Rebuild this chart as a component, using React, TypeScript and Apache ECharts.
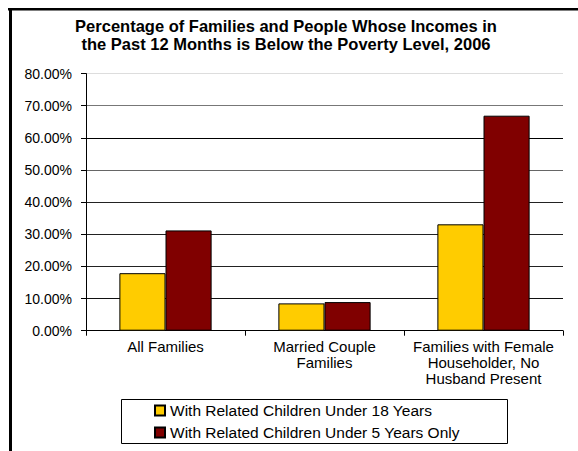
import React, { useEffect, useRef } from "react";
import * as echarts from "echarts";

const titleLines = [
  "Percentage of Families and People Whose Incomes in",
  "the Past 12 Months is Below the Poverty Level, 2006",
];
const categories = [
  "All Families",
  "Married Couple\nFamilies",
  "Families with Female\nHouseholder, No\nHusband Present",
];
const seriesNames = [
  "With Related Children Under 18 Years",
  "With Related Children Under 5 Years Only",
];
const under18 = [17.9, 8.5, 33.1];
const under5 = [31.2, 8.9, 66.9];
const yTicks = { min: 0, max: 80, interval: 10 };

const FONT = "'Liberation Sans', Arial, sans-serif";

export default function App() {
  const ref = useRef<HTMLDivElement>(null);
  useEffect(() => {
    if (!ref.current) return;
    const chart = echarts.init(ref.current, undefined, { renderer: "svg" });
    chart.setOption({
      animation: false,
      backgroundColor: "#fff",
      textStyle: { fontFamily: FONT },
      title: {
        text: titleLines.join("\n"),
        left: 286,
        top: 17,
        textAlign: "center",
        padding: 0,
        textStyle: {
          fontFamily: FONT,
          fontSize: 16.5,
          fontWeight: "bold",
          color: "#000",
          lineHeight: 18,
        },
      },
      grid: { left: 86, right: 15, top: 73.6, bottom: 120.3, containLabel: false },
      xAxis: {
        type: "category",
        data: categories,
        axisLine: { show: true, lineStyle: { color: "#000", width: 1 } },
        axisTick: { show: true, length: 5, alignWithLabel: false, lineStyle: { color: "#000" } },
        axisLabel: {
          fontFamily: FONT,
          fontSize: 15,
          color: "#000",
          lineHeight: 16,
          margin: 8,
          interval: 0,
        },
        splitLine: { show: false },
      },
      yAxis: {
        type: "value",
        min: yTicks.min,
        max: yTicks.max,
        interval: yTicks.interval,
        axisLine: { show: true, lineStyle: { color: "#000", width: 1 } },
        axisTick: { show: true, length: 5, inside: false, lineStyle: { color: "#000" } },
        axisLabel: {
          fontFamily: FONT,
          fontSize: 14,
          color: "#000",
          margin: 14,
          formatter: (v: number) => v.toFixed(2) + "%",
        },
        splitLine: {
          show: true,
          lineStyle: {
            color: ["#000", "#111", "#222", "#222", "#222", "#666", "#000", "#777", "#ddd"],
            width: 1,
          },
        },
      },
      legend: {
        orient: "vertical",
        left: 154,
        top: 402.5,
        padding: 0,
        itemWidth: 10,
        itemHeight: 10,
        itemGap: 6,
        icon: "rect",
        textStyle: { fontFamily: FONT, fontSize: 15.5, color: "#000", lineHeight: 16 },
        data: seriesNames,
      },
      series: [
        {
          name: seriesNames[0],
          type: "bar",
          data: under18,
          barGap: "0%",
          barCategoryGap: "42%",
          itemStyle: { color: "#FFCC00", borderColor: "#000", borderWidth: 1 },
        },
        {
          name: seriesNames[1],
          type: "bar",
          data: under5,
          barGap: "0%",
          barCategoryGap: "42%",
          itemStyle: { color: "#800000", borderColor: "#000", borderWidth: 1 },
        },
      ],
      graphic: [
        { type: "rect", silent: true, shape: { x: 8, y: 8, width: 570, height: 2.5 }, style: { fill: "#000" } },
        { type: "rect", silent: true, shape: { x: 9, y: 8, width: 3, height: 443 }, style: { fill: "#000" } },
        {
          type: "rect",
          silent: true,
          shape: { x: 121.5, y: 399.5, width: 386, height: 44 },
          style: { fill: "none", stroke: "#000", lineWidth: 1 },
        },
      ],
    });
    return () => chart.dispose();
  }, []);
  return (
    <div
      ref={ref}
      style={{ position: "fixed", left: 0, top: 0, width: 578, height: 451 }}
    />
  );
}
